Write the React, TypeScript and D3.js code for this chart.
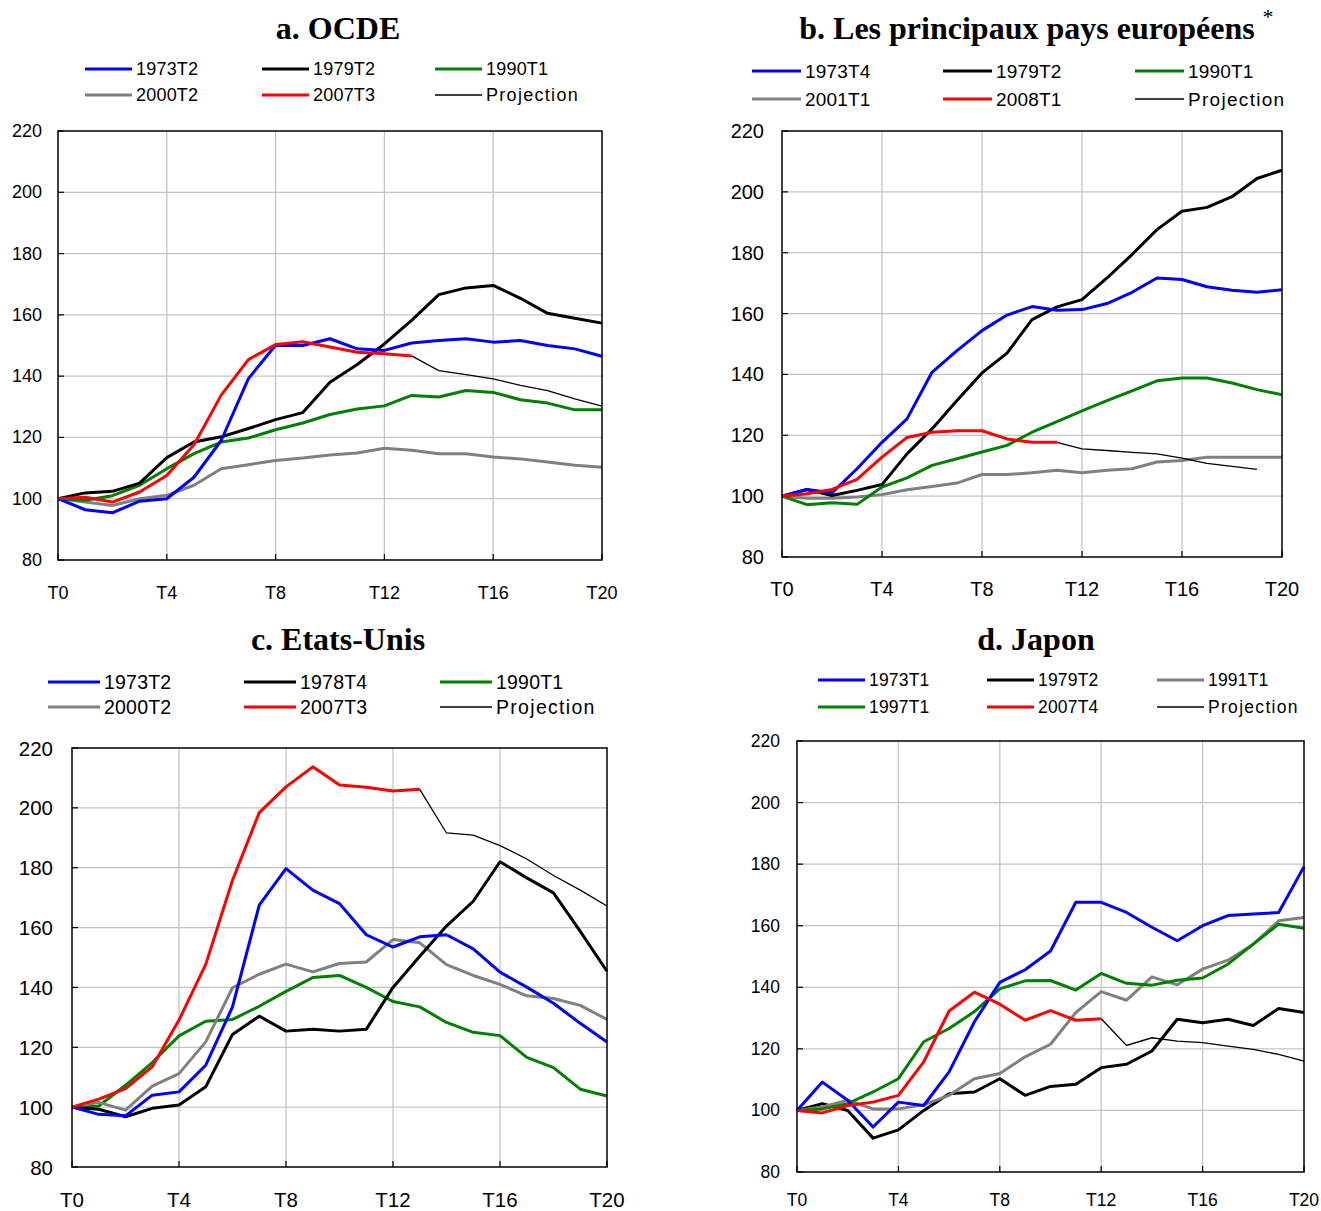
import React from 'react'
import * as d3 from 'd3'

// quarter labels on the x axis
const xTicks = ['T0', 'T4', 'T8', 'T12', 'T16', 'T20']
const yTicks = [80, 100, 120, 140, 160, 180, 200, 220]

// a. OCDE
const a1973T2 = [100, 96.4, 95.4, 99.2, 100, 107, 119, 139.2, 150.1, 150, 152.2, 148.9, 148.4, 150.8, 151.6, 152.2, 151.1, 151.6, 150, 148.9, 146.5]
const a1979T2 = [100, 101.9, 102.4, 105.1, 113.4, 118.5, 120.2, 122.9, 125.8, 128.1, 138, 143.8, 150.5, 158.2, 166.6, 168.8, 169.6, 165.4, 160.5, 158.9, 157.3]
const a1990T1 = [100, 99.5, 101, 104.4, 109.8, 114.7, 118.5, 119.8, 122.5, 124.7, 127.5, 129.3, 130.3, 133.7, 133.2, 135.3, 134.7, 132.3, 131.2, 129, 129]
const a2000T2 = [100, 98.9, 97.8, 100, 101.1, 104.4, 109.8, 111.1, 112.5, 113.3, 114.3, 114.9, 116.5, 115.8, 114.7, 114.7, 113.6, 113, 112, 110.9, 110.3]
const a2007T3 = [100, 100.5, 98.9, 102.2, 107.6, 117.6, 133.8, 145.4, 150.3, 151.2, 149.5, 147.8, 147.3, 146.6]
const aProjStart = 13
const aProj = [146.6, 141.8, 140.5, 139.1, 137, 135.3, 132.6, 130.2]

// b. principaux pays européens
const b1973T4 = [100, 102.2, 101.1, 109, 117.7, 125.4, 140.7, 147.8, 154.4, 159.5, 162.3, 161.1, 161.3, 163.3, 167, 171.7, 171.2, 168.8, 167.7, 167, 167.8]
const b1979T2 = [100, 102.2, 100.2, 101.9, 103.8, 113.9, 122.1, 131.4, 140.5, 147, 158, 162.2, 164.6, 171.7, 179.4, 187.6, 193.6, 194.9, 198.4, 204.4, 207.1]
const b1990T1 = [100, 97.2, 97.8, 97.3, 103, 106, 110.1, 112.3, 114.5, 116.7, 121, 124.5, 128, 131.4, 134.6, 137.9, 138.8, 138.8, 137.2, 135, 133.3]
const b2001T1 = [100, 99.3, 99.3, 99.7, 100.5, 102.1, 103.2, 104.3, 107.1, 107.1, 107.7, 108.5, 107.7, 108.5, 109, 111.2, 111.7, 112.8, 112.8, 112.8, 112.8]
const b2008T1 = [100, 100.8, 102.2, 105.5, 112.8, 119.3, 121, 121.5, 121.5, 118.8, 117.7, 117.7]
const bProjStart = 11
const bProj = [117.7, 115.5, 115, 114.4, 113.9, 112.5, 110.8, 109.8, 108.8]

// c. Etats-Unis
const c1973T2 = [100, 97.6, 97.1, 104, 105.1, 114, 133.5, 167.5, 179.7, 172.5, 168, 157.6, 153.5, 156.9, 157.6, 152.9, 145.1, 140.1, 134.7, 128, 121.8]
const c1978T4 = [100, 99.3, 96.8, 99.6, 100.7, 106.8, 124.3, 130.4, 125.4, 126, 125.4, 126, 140, 150.4, 160.5, 168.8, 182, 176.6, 171.6, 158.7, 145.4]
const c1990T1 = [100, 100.4, 107.3, 114.9, 123.8, 128.7, 129.3, 133.7, 138.7, 143.3, 144, 140, 135.3, 133.5, 128.3, 125, 123.9, 116.6, 113.2, 106, 103.7]
const c2000T2 = [100, 101.6, 99, 107, 111.2, 121.8, 139.9, 144.4, 147.8, 145.2, 148, 148.5, 156, 154.9, 147.6, 144, 141, 137.2, 136.3, 134, 129.3]
const c2007T3 = [100, 102.7, 106.2, 113.5, 129.1, 147.7, 175.8, 198.4, 207, 213.7, 207.6, 206.9, 205.6, 206.2]
const cProjStart = 13
const cProj = [206.2, 191.6, 190.9, 187.4, 182.9, 177.4, 172.5, 167.2]

// d. Japon
const d1973T1 = [100, 109.2, 103.3, 94.6, 102.7, 101.6, 112.5, 128.8, 141.6, 145.7, 151.8, 167.6, 167.6, 164.3, 159.5, 155.1, 160, 163.3, 163.8, 164.3, 179.2]
const d1979T2 = [100, 102.2, 100, 91, 93.7, 100, 105.4, 106, 110.3, 104.9, 107.8, 108.5, 113.9, 115, 119.3, 129.6, 128.5, 129.6, 127.6, 133.1, 131.8]
const d1991T1 = [100, 101.1, 103.3, 100.5, 100.5, 101.8, 104.9, 110.3, 112, 117.4, 121.5, 131.8, 138.6, 135.8, 143.4, 140.8, 145.9, 148.8, 154, 161.6, 162.7]
const d1997T1 = [100, 100.5, 102.2, 106, 110.3, 122.3, 126.6, 132.1, 139.5, 142.1, 142.2, 139.1, 144.5, 141.3, 140.7, 142.3, 143, 147.5, 154, 160.5, 159.2]
const d2007T4 = [100, 99.2, 101.6, 102.7, 104.9, 115.8, 132.3, 138.4, 134.5, 129.3, 132.4, 129.3, 129.8]
const dProjStart = 12
const dProj = [129.8, 121.1, 123.6, 122.5, 122, 120.9, 119.8, 118.2, 116]

const BLUE = '#0000ff'
const BLACK = '#000000'
const GREEN = '#008000'
const GRAY = '#808080'
const RED = '#ff0000'

const panels = [
  {
    title: 'a. OCDE', titleX: 338, titleY: 39, star: false,
    x0: 58, x1: 602, y0: 131, y1: 560, font: 18, yLabelX: 42, xLabelY: 593,
    legendCols: [85, 262, 435], legendRows: [69, 95], swatch: 47, legendFont: 18,
    legend: [['1973T2', BLUE], ['1979T2', BLACK], ['1990T1', GREEN], ['2000T2', GRAY], ['2007T3', RED], ['Projection', 'proj']],
    series: [
      { values: a2000T2, color: GRAY }, { values: a1990T1, color: GREEN }, { values: a1979T2, color: BLACK },
      { values: a1973T2, color: BLUE }, { values: a2007T3, color: RED }
    ],
    proj: aProj, projStart: aProjStart
  },
  {
    title: 'b. Les principaux pays européens', titleX: 1027, titleY: 39, star: true,
    x0: 782, x1: 1282, y0: 131, y1: 557, font: 20, yLabelX: 764, xLabelY: 589,
    legendCols: [752, 943, 1135], legendRows: [71, 99], swatch: 49, legendFont: 19,
    legend: [['1973T4', BLUE], ['1979T2', BLACK], ['1990T1', GREEN], ['2001T1', GRAY], ['2008T1', RED], ['Projection', 'proj']],
    series: [
      { values: b2001T1, color: GRAY }, { values: b1990T1, color: GREEN }, { values: b1979T2, color: BLACK },
      { values: b1973T4, color: BLUE }, { values: b2008T1, color: RED }
    ],
    proj: bProj, projStart: bProjStart
  },
  {
    title: 'c. Etats-Unis', titleX: 338, titleY: 650, star: false,
    x0: 72, x1: 607, y0: 748, y1: 1167, font: 20.5, yLabelX: 53, xLabelY: 1199,
    legendCols: [48, 244, 440], legendRows: [682, 707], swatch: 52, legendFont: 19.5,
    legend: [['1973T2', BLUE], ['1978T4', BLACK], ['1990T1', GREEN], ['2000T2', GRAY], ['2007T3', RED], ['Projection', 'proj']],
    series: [
      { values: c1990T1, color: GREEN }, { values: c2000T2, color: GRAY }, { values: c1978T4, color: BLACK },
      { values: c1973T2, color: BLUE }, { values: c2007T3, color: RED }
    ],
    proj: cProj, projStart: cProjStart
  },
  {
    title: 'd. Japon', titleX: 1036, titleY: 650, star: false,
    x0: 797, x1: 1304, y0: 741, y1: 1172, font: 17.5, yLabelX: 780, xLabelY: 1200,
    legendCols: [818, 987, 1157], legendRows: [680, 707], swatch: 47, legendFont: 17.5,
    legend: [['1973T1', BLUE], ['1979T2', BLACK], ['1991T1', GRAY], ['1997T1', GREEN], ['2007T4', RED], ['Projection', 'proj']],
    series: [
      { values: d1979T2, color: BLACK }, { values: d1991T1, color: GRAY }, { values: d1997T1, color: GREEN },
      { values: d1973T1, color: BLUE }, { values: d2007T4, color: RED }
    ],
    proj: dProj, projStart: dProjStart
  }
]

const SANS = '"Liberation Sans", Arial, sans-serif'
const SERIF = '"Liberation Serif", "Times New Roman", serif'

function Panel({ p }) {
  const x = d3.scaleLinear().domain([0, 20]).range([p.x0, p.x1])
  const y = d3.scaleLinear().domain([80, 220]).range([p.y1, p.y0])
  const line = d3.line().x(d => x(d[0])).y(d => y(d[1]))

  return (
    <g>
      <text x={p.titleX} y={p.titleY} textAnchor='middle' fontFamily={SERIF} fontWeight='bold' fontSize={32}>
        {p.title}
      </text>
      {p.star && (
        <text x={1268} y={24} textAnchor='middle' fontFamily={SERIF} fontSize={22}>*</text>
      )}

      {/* legend */}
      {p.legend.map(([label, color], i) => {
        const lx = p.legendCols[i % 3]
        const ly = p.legendRows[Math.floor(i / 3)]
        const isProj = color === 'proj'
        return (
          <g key={label}>
            <line x1={lx} x2={lx + p.swatch} y1={ly} y2={ly}
              stroke={isProj ? BLACK : color} strokeWidth={isProj ? 1.3 : 3} />
            <text x={lx + p.swatch + 4} y={ly} dominantBaseline='central' fontFamily={SANS}
              fontSize={p.legendFont} letterSpacing={isProj ? 1.3 : 0.2}>
              {label}
            </text>
          </g>
        )
      })}

      {/* grid */}
      {yTicks.slice(1, -1).map(v => (
        <line key={'h' + v} x1={p.x0} x2={p.x1} y1={y(v)} y2={y(v)} stroke='#c4c4c4' strokeWidth={1.3} />
      ))}
      {xTicks.slice(1, -1).map((_, i) => (
        <line key={'v' + i} x1={x((i + 1) * 4)} x2={x((i + 1) * 4)} y1={p.y0} y2={p.y1} stroke='#c4c4c4' strokeWidth={1.3} />
      ))}

      {/* left ticks and bottom ticks */}
      {yTicks.map(v => (
        <line key={'yt' + v} x1={p.x0} x2={p.x0 + 6} y1={y(v)} y2={y(v)} stroke={BLACK} strokeWidth={1.2} />
      ))}
      {xTicks.map((_, i) => (
        <line key={'xt' + i} x1={x(i * 4)} x2={x(i * 4)} y1={p.y1} y2={p.y1 - 6} stroke={BLACK} strokeWidth={1.2} />
      ))}

      {/* tick labels */}
      {yTicks.map(v => (
        <text key={'yl' + v} x={p.yLabelX} y={y(v)} textAnchor='end' dominantBaseline='central'
          fontFamily={SANS} fontSize={p.font}>
          {v}
        </text>
      ))}
      {xTicks.map((t, i) => (
        <text key={'xl' + t} x={x(i * 4)} y={p.xLabelY} textAnchor='middle' dominantBaseline='central'
          fontFamily={SANS} fontSize={p.font}>
          {t}
        </text>
      ))}

      {/* series */}
      {p.series.map((s, i) => (
        <path key={'s' + i} d={line(s.values.map((v, j) => [j, v]))} fill='none'
          stroke={s.color} strokeWidth={3} strokeLinejoin='round' />
      ))}
      <path d={line(p.proj.map((v, j) => [j + p.projStart, v]))} fill='none' stroke={BLACK} strokeWidth={1.3} />

      {/* frame */}
      <rect x={p.x0} y={p.y0} width={p.x1 - p.x0} height={p.y1 - p.y0} fill='none' stroke={BLACK} strokeWidth={1.5} />
    </g>
  )
}

export default function App() {
  return (
    <svg width={1321} height={1211} style={{ position: 'absolute', left: 0, top: 0, background: 'white' }}>
      <rect width={1321} height={1211} fill='white' />
      {panels.map(p => <Panel key={p.title} p={p} />)}
    </svg>
  )
}
